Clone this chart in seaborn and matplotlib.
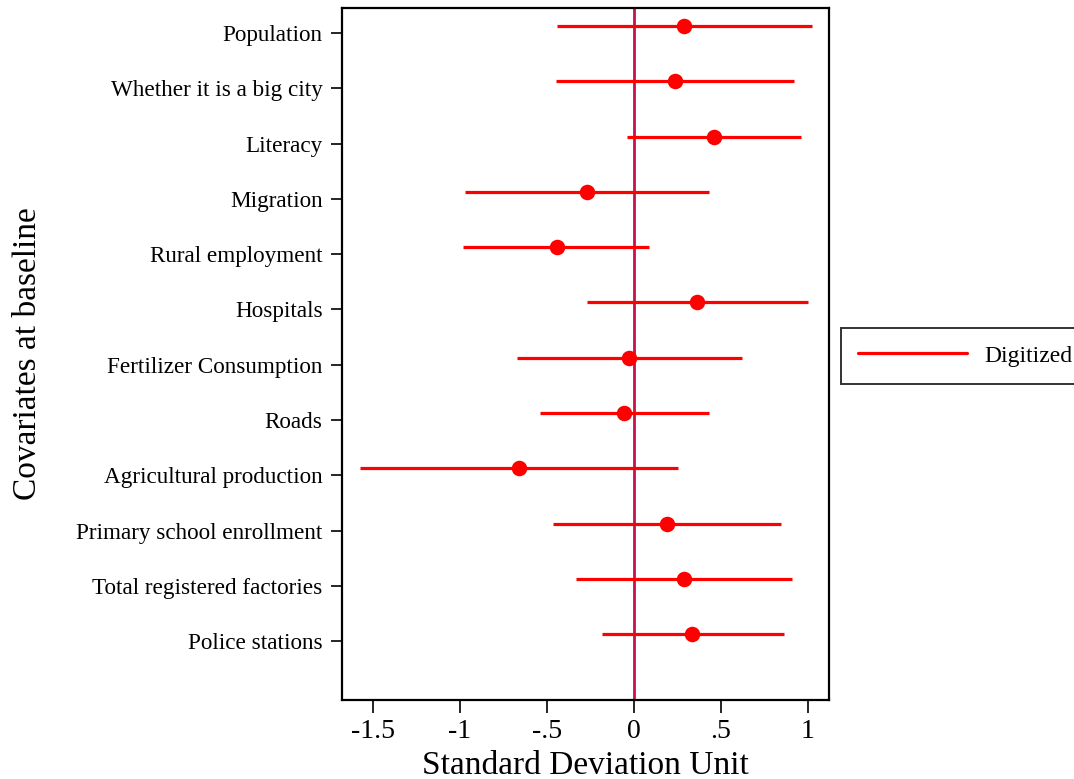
import matplotlib
matplotlib.use("Agg")
import matplotlib.pyplot as plt
from matplotlib.lines import Line2D
import seaborn as sns
import pandas as pd
import numpy as np

categories = ["Population", "Whether it is a big city", "Literacy", "Migration",
              "Rural employment", "Hospitals", "Fertilizer Consumption", "Roads",
              "Agricultural production", "Primary school enrollment",
              "Total registered factories", "Police stations"]
estimate = [0.287, 0.234, 0.460, -0.270, -0.443, 0.362, -0.029, -0.056,
            -0.663, 0.192, 0.287, 0.335]
ci_low = [-0.443, -0.448, -0.042, -0.971, -0.983, -0.270, -0.672, -0.540,
          -1.575, -0.464, -0.331, -0.186]
ci_high = [1.023, 0.918, 0.962, 0.433, 0.086, 1.000, 0.621, 0.433,
           0.251, 0.843, 0.910, 0.862]
xticks = [-1.5, -1, -0.5, 0, 0.5, 1]
xticklabels = ["-1.5", "-1", "-.5", "0", ".5", "1"]

df = pd.DataFrame({"cat": categories, "est": estimate, "lo": ci_low, "hi": ci_high})
df["pos"] = np.arange(len(df))

sns.set_style("white")
plt.rcParams["font.family"] = ["Liberation Serif", "DejaVu Serif"]
plt.rcParams["text.color"] = "black"
plt.rcParams["axes.labelcolor"] = "black"
plt.rcParams["xtick.color"] = "black"
plt.rcParams["ytick.color"] = "black"

fig = plt.figure(figsize=(10.74, 7.79), dpi=100)
ax = fig.add_axes([342/1074, 1-700/779, (829-342)/1074, (700-8)/779])

red = "#ff0000"
ax.axvline(0, color="#c8104e", lw=2.0, zorder=1)
ax.hlines(df["pos"], df["lo"], df["hi"], color=red, lw=2.3, zorder=2)
sns.scatterplot(data=df, x="est", y="pos", ax=ax, color=red, s=125,
                edgecolor=red, linewidth=0, zorder=3, legend=False)

ax.set_xlim(-1.678, 1.121)
ax.set_ylim(12.19, -0.325)
ax.set_yticks(df["pos"] + 0.127)
ax.set_yticklabels(categories, fontsize=16.7)
ax.set_xticks(xticks)
ax.set_xticklabels(xticklabels, fontsize=20)
ax.tick_params(axis="y", length=8, width=1.2, pad=6, left=True)
ax.tick_params(axis="x", length=9, width=1.2, pad=5, bottom=True)
ax.set_xlabel("Standard Deviation Unit", fontsize=24, labelpad=4)
ax.set_ylabel("Covariates at baseline", fontsize=24)
ax.yaxis.set_label_coords(-0.614, 0.5)
for s in ax.spines.values():
    s.set_color("black")
    s.set_linewidth(1.6)
ax.grid(False)

handle = Line2D([], [], color=red, lw=2.3)
leg = fig.legend([handle], ["Digitized"], loc="upper left",
                 bbox_to_anchor=(841/1074, 1-328/779), fontsize=17,
                 frameon=True, fancybox=False, handlelength=4.6,
                 handletextpad=0.75, borderpad=0.72, borderaxespad=0)
leg.get_frame().set_edgecolor("black")
leg.get_frame().set_linewidth(1.4)

fig.savefig("out.png", dpi=100)
